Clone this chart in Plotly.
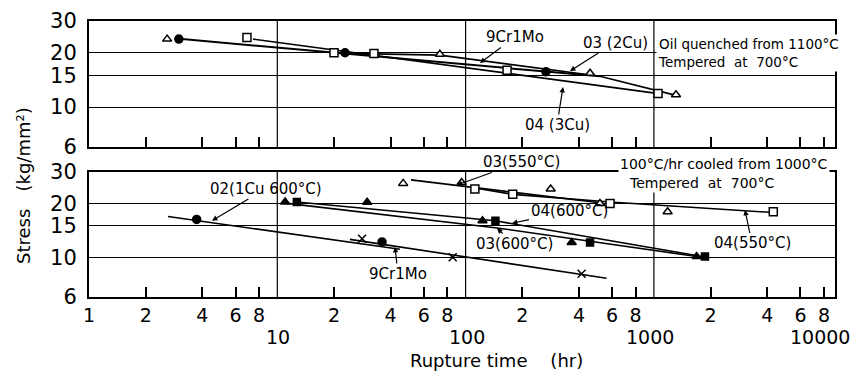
import math
import plotly.graph_objects as go

# ---------------- data ----------------
# Top panel: oil quenched from 1100°C, tempered at 700°C
top_9cr_x = [3.0, 22.9, 267]
top_9cr_y = [23.8, 20.0, 15.7]
top_03_x = [2.6, 73, 458, 1310]
top_03_y = [23.8, 19.6, 15.4, 11.7]
top_04_x = [6.9, 20, 32.6, 166, 1052]
top_04_y = [24.3, 20.0, 19.8, 16.0, 11.9]

top_9cr_fit_x = [3.12, 517]
top_9cr_fit_y = [23.8, 14.8]
top_03_fit_x = [20.3, 73, 517, 1310]
top_03_fit_y = [19.9, 19.4, 14.8, 11.6]
top_04_fit_x = [7.43, 119, 1013]
top_04_fit_y = [23.8, 16.2, 11.94]

# Bottom panel: 100°C/hr cooled from 1000°C, tempered at 700°C
bot_02_x = [3.73, 36]
bot_02_y = [16.3, 12.2]
bot_9cr_x = [28.2, 85.4, 413]
bot_9cr_y = [12.7, 10.0, 8.1]
bot_03_600_x = [11.0, 30, 123, 366, 1686]
bot_03_600_y = [20.4, 20.3, 16.0, 12.1, 10.1]
bot_04_600_x = [12.7, 144, 458, 1867]
bot_04_600_y = [20.4, 16.0, 12.1, 10.1]
bot_03_550_x = [46.6, 95.3, 283, 517, 1183]
bot_03_550_y = [25.9, 26.2, 24.1, 20.0, 18.0]
bot_04_550_x = [112, 178, 585, 4305]
bot_04_550_y = [24.1, 22.5, 20.0, 18.0]

bot_02_fit_x = [2.63, 44.8]
bot_02_fit_y = [16.9, 11.1]
bot_9cr_fit_x = [24.3, 561]
bot_9cr_fit_y = [12.6, 7.63]
bot_03_600_fit_x = [11.0, 147, 1694]
bot_03_600_fit_y = [20.1, 14.6, 10.1]
bot_04_600_fit_x = [12.7, 144, 1867]
bot_04_600_fit_y = [20.4, 16.0, 10.04]
bot_03_550_fit_x = [51.3, 517]
bot_03_550_fit_y = [27.1, 20.2]
bot_04_550_fit_x = [112, 178, 585, 4305]
bot_04_550_fit_y = [24.4, 22.5, 20.4, 17.8]

# axis ticks
y_ticks = [6, 10, 15, 20, 30]
x_label_vals = [1, 2, 4, 6, 8, 20, 40, 60, 80, 200, 400, 600, 800, 2000, 4000, 6000, 8000]
x_label_text = ["1", "2", "4", "6", "8", "2", "4", "6", "8", "2", "4", "6", "8", "2", "4", "6", "8"]
decade_labels = ["10", "100", "1000", "10000"]
grid_decades = [10, 100, 1000]

FONT = "DejaVu Sans"
W, H = 855, 372
L, R, T, B = 89, 835, 21, 297  # plot area pixels


def pxx(x):
    return (x - L) / (R - L)


def pxy(y):
    return (B - y) / (B - T)


fig = go.Figure()


def add_series(xs, ys, symbol, xa, ya, size=8, filled=True):
    fig.add_trace(go.Scatter(
        x=xs, y=ys, mode="markers", xaxis=xa, yaxis=ya, showlegend=False,
        marker=dict(symbol=symbol, size=size, color="black" if filled else "white",
                    line=dict(color="black", width=1.5))))


def add_line(xs, ys, xa, ya, width=1.6):
    fig.add_trace(go.Scatter(
        x=xs, y=ys, mode="lines", xaxis=xa, yaxis=ya, showlegend=False,
        line=dict(color="black", width=width)))


# top panel lines + markers
add_line(top_9cr_fit_x, top_9cr_fit_y, "x2", "y2", 2)
add_line(top_03_fit_x, top_03_fit_y, "x2", "y2")
add_line(top_04_fit_x, top_04_fit_y, "x2", "y2")
add_series(top_9cr_x, top_9cr_y, "circle", "x2", "y2")
add_series(top_03_x, top_03_y, "triangle-up", "x2", "y2", filled=False)
add_series(top_04_x, top_04_y, "square", "x2", "y2", filled=False)

# bottom panel lines + markers
add_line(bot_02_fit_x, bot_02_fit_y, "x", "y")
add_line(bot_9cr_fit_x, bot_9cr_fit_y, "x", "y")
add_line(bot_03_600_fit_x, bot_03_600_fit_y, "x", "y")
add_line(bot_04_600_fit_x, bot_04_600_fit_y, "x", "y")
add_line(bot_03_550_fit_x, bot_03_550_fit_y, "x", "y")
add_line(bot_04_550_fit_x, bot_04_550_fit_y, "x", "y")
add_series(bot_02_x, bot_02_y, "circle", "x", "y")
add_series(bot_9cr_x, bot_9cr_y, "x-thin", "x", "y")
add_series(bot_03_600_x, bot_03_600_y, "triangle-up", "x", "y")
add_series(bot_04_600_x, bot_04_600_y, "square", "x", "y", size=7)
add_series(bot_03_550_x, bot_03_550_y, "triangle-up", "x", "y", filled=False)
add_series(bot_04_550_x, bot_04_550_y, "square", "x", "y", filled=False)

xr = [0, (R - L) / 188.3]
yr = [math.log10(6), math.log10(30)]

common_x = dict(type="log", range=xr, showgrid=False, zeroline=False,
                showline=True, mirror=True, linecolor="black", linewidth=2,
                tickmode="array", tickvals=x_label_vals, ticktext=x_label_text,
                ticks="inside", ticklen=10, tickwidth=1.5, tickcolor="black",
                tickfont=dict(family=FONT, size=19, color="black"))
common_y = dict(type="log", range=yr, showline=True, mirror=True, linecolor="black",
                linewidth=2, tickmode="array", tickvals=y_ticks,
                ticktext=[str(v) for v in y_ticks], ticks="",
                tickfont=dict(family=FONT, size=21, color="black"),
                showgrid=True, gridcolor="black", gridwidth=1.2, zeroline=False,
                ticklabelstandoff=6)

fig.update_layout(
    width=W, height=H, paper_bgcolor="white", plot_bgcolor="white",
    margin=dict(l=L, r=W - R, t=T, b=H - B, pad=0, autoexpand=False),
    xaxis=dict(anchor="y", domain=[0, 1], **common_x, ticklabelstandoff=0),
    xaxis2=dict(anchor="y2", domain=[0, 1], matches="x", showticklabels=False, **common_x),
    yaxis=dict(anchor="x", domain=[0, pxy(172)], **common_y),
    yaxis2=dict(anchor="x2", domain=[pxy(147), 1], **common_y),
)

# vertical grid lines at decades
for d in grid_decades:
    for xref, yref in (("x", "y domain"), ("x2", "y2 domain")):
        fig.add_shape(type="line", xref=xref, yref=yref, x0=d, x1=d,
                      y0=0, y1=1, line=dict(color="black", width=1.2), layer="below")

ann = []


def label(text, cx, cy, tipx=None, tipy=None, size=15, xanchor="center", **kw):
    base = dict(text=text, xref="paper", yref="paper", xanchor=xanchor, yanchor="middle",
                font=dict(family=FONT, size=size, color="black"), **kw)
    if tipx is None:
        base.update(x=pxx(cx), y=pxy(cy), showarrow=False)
    else:
        base.update(x=pxx(tipx), y=pxy(tipy), ax=cx - tipx, ay=cy - tipy, showarrow=True,
                    arrowhead=2, arrowsize=0.9, arrowwidth=1.2, arrowcolor="black")
    ann.append(base)


# top panel labels
label("9Cr1Mo", 515, 37, 480, 63)
label("03 (2Cu)", 615, 42.5, 570, 71)
label("04 (3Cu)", 557, 125, 563, 87)
label("Oil quenched from 1100°C<br>Tempered  at  700°C", 656, 53, size=13.5,
      xanchor="left", align="left", bgcolor="white", borderpad=1)
# bottom panel labels
label("100°C/hr cooled from 1000°C", 618, 163.5, size=14, xanchor="left", bgcolor="white")
label("Tempered  at  700°C", 627, 182.5, size=14, xanchor="left", bgcolor="white")
label("03(550°C)", 521, 162, 457, 185)
label("02(1Cu 600°C)", 266, 188.5, 212, 220.7)
label("9Cr1Mo", 398, 274, 395, 247)
label("04(600°C)", 569, 211, 512, 223.3)
label("03(600°C)", 514, 244, 497, 228.3)
label("04(550°C)", 752, 243.5, 745, 210)

# axis titles
label("Stress   (kg/mm²)", 23, 186, size=18, textangle=-90)
label("Rupture time    (hr)", 496, 360, size=18)
# decade labels (second row of x tick labels)
for txt, cx in zip(decade_labels, [278, 467, 650, 820]):
    label(txt, cx, 337, size=19)

fig.update_layout(annotations=ann)
fig.write_html("out.html", config={"displayModeBar": False},
               post_script="document.body.style.margin='0px';")
